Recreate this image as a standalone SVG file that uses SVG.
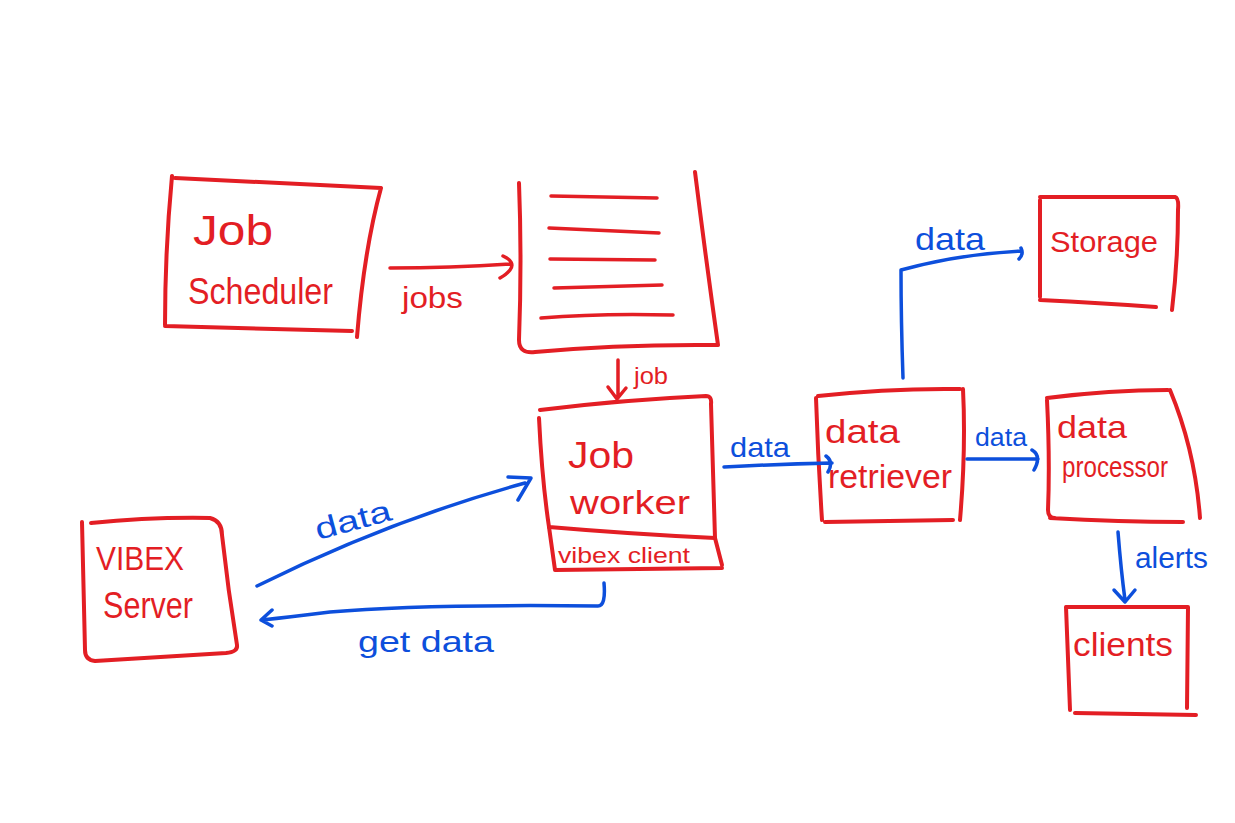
<svg xmlns="http://www.w3.org/2000/svg" width="1235" height="823" viewBox="0 0 1235 823">
<defs>
<style>
.box{fill:none;stroke:#e31e24;stroke-width:4;stroke-linecap:round;stroke-linejoin:round}
.rl{fill:none;stroke:#e31e24;stroke-width:3.5;stroke-linecap:round;stroke-linejoin:round}
.bl{fill:none;stroke:#0d4fdc;stroke-width:3.5;stroke-linecap:round;stroke-linejoin:round}
.rt{fill:#e31e24;font-family:"Liberation Sans",Arial,sans-serif}
.bt{fill:#0d4fdc;font-family:"Liberation Sans",Arial,sans-serif}
</style>
</defs>
<rect width="1235" height="823" fill="#ffffff"/>

<g id="job-scheduler">
<path class="box" d="M175,178 L381,188 M381,188 Q364,250 357,337 M165,326 L352,331 M172,176 Q165,250 165,325"/>
<text class="rt" x="193" y="245" font-size="42" textLength="80" lengthAdjust="spacingAndGlyphs">Job</text>
<text class="rt" x="188" y="304" font-size="36" textLength="145" lengthAdjust="spacingAndGlyphs">Scheduler</text>
</g>

<g id="queue">
<path class="box" d="M519,183 Q522,260 519,340 Q519,354 535,352 Q620,344 718,345 M718,345 Q706,260 695,172"/>
<path class="rl" d="M551,196 L657,198 M549,228 L659,233 M550,259 L655,260 M554,288 L662,285 M541,318 Q600,313 673,315"/>
</g>

<g id="job-worker">
<path class="box" d="M540,410 Q620,400 706,396 Q712,396 711,404 Q713,470 715,538 M549,527 Q630,534 715,538 M539,418 Q542,480 549,527"/>
<text class="rt" x="568" y="468" font-size="36" textLength="66" lengthAdjust="spacingAndGlyphs">Job</text>
<text class="rt" x="570" y="514" font-size="34" textLength="120" lengthAdjust="spacingAndGlyphs">worker</text>
</g>

<g id="vibex-client">
<path class="box" d="M549,527 L555,570 M555,570 L722,568 M715,538 L722,565"/>
<text class="rt" x="558" y="563" font-size="22" textLength="132" lengthAdjust="spacingAndGlyphs">vibex client</text>
</g>

<g id="vibex-server">
<path class="box" d="M91,523 Q150,517 210,518 Q222,521 222,535 Q228,590 237,645 Q238,652 226,653 Q160,657 95,661 Q85,660 85,650 L82,522"/>
<text class="rt" x="96" y="570" font-size="34" textLength="88" lengthAdjust="spacingAndGlyphs">VIBEX</text>
<text class="rt" x="103" y="618" font-size="36" textLength="90" lengthAdjust="spacingAndGlyphs">Server</text>
</g>

<g id="data-retriever">
<path class="box" d="M818,396 Q890,388 960,389 M963,389 Q966,450 960,520 M825,522 L953,520 M816,398 Q818,460 822,520"/>
<text class="rt" x="825" y="443" font-size="34" textLength="75" lengthAdjust="spacingAndGlyphs">data</text>
<text class="rt" x="828" y="488" font-size="34" textLength="124" lengthAdjust="spacingAndGlyphs">retriever</text>
</g>

<g id="storage">
<path class="box" d="M1040,197 L1175,197 Q1179,198 1178,210 Q1178,260 1172,310 M1040,300 Q1100,303 1156,307 M1040,200 L1040,297"/>
<text class="rt" x="1050" y="252" font-size="30" textLength="108" lengthAdjust="spacingAndGlyphs">Storage</text>
</g>

<g id="data-processor">
<path class="box" d="M1047,398 Q1110,390 1168,390 M1170,390 Q1195,450 1200,518 M1050,518 Q1120,522 1183,522 M1047,400 Q1050,460 1048,510 Q1048,518 1055,518"/>
<text class="rt" x="1057" y="438" font-size="32" textLength="70" lengthAdjust="spacingAndGlyphs">data</text>
<text class="rt" x="1062" y="477" font-size="30" textLength="106" lengthAdjust="spacingAndGlyphs">processor</text>
</g>

<g id="clients">
<path class="box" d="M1067,607 L1188,607 M1188,607 L1187,708 M1075,713 L1196,715 M1066,607 L1070,710"/>
<text class="rt" x="1073" y="656" font-size="34" textLength="100" lengthAdjust="spacingAndGlyphs">clients</text>
</g>

<g id="connectors">
<path class="rl" d="M390,268 Q450,268 510,264 M503,256 Q516,262 510,270 Q507,274 500,278"/>
<text class="rt" x="402" y="308" font-size="30" textLength="61" lengthAdjust="spacingAndGlyphs">jobs</text>

<path class="rl" d="M618,360 L618,398 M608,387 L617,399 L626,388"/>
<text class="rt" x="634" y="384" font-size="24" textLength="34" lengthAdjust="spacingAndGlyphs">job</text>

<path class="bl" d="M257,586 Q390,520 525,483 M508,477 L531,478 L518,500"/>
<text class="bt" x="318" y="540" font-size="30" textLength="78" lengthAdjust="spacingAndGlyphs" transform="rotate(-15 318 540)">data</text>

<path class="bl" d="M604,583 Q606,606 598,606 Q420,604 330,612 Q290,617 262,620 M272,610 L261,620 L272,626" stroke-width="4.5"/>
<text class="bt" x="358" y="652" font-size="30" textLength="136" lengthAdjust="spacingAndGlyphs">get data</text>

<path class="bl" d="M724,467 Q780,464 832,463 M826,456 Q834,462 828,472"/>
<text class="bt" x="730" y="457" font-size="28" textLength="60" lengthAdjust="spacingAndGlyphs">data</text>

<path class="bl" d="M967,459 L1038,459 M1032,450 Q1042,456 1034,470"/>
<text class="bt" x="975" y="446" font-size="26" textLength="52" lengthAdjust="spacingAndGlyphs">data</text>

<path class="bl" d="M903,378 Q901,320 901,270 Q960,254 1021,251 M1021,248 Q1024,254 1019,259"/>
<text class="bt" x="915" y="250" font-size="32" textLength="70" lengthAdjust="spacingAndGlyphs">data</text>

<path class="bl" d="M1118,532 Q1121,570 1125,600 M1114,590 L1125,602 L1135,590"/>
<text class="bt" x="1135" y="568" font-size="30" textLength="73" lengthAdjust="spacingAndGlyphs">alerts</text>
</g>
</svg>
